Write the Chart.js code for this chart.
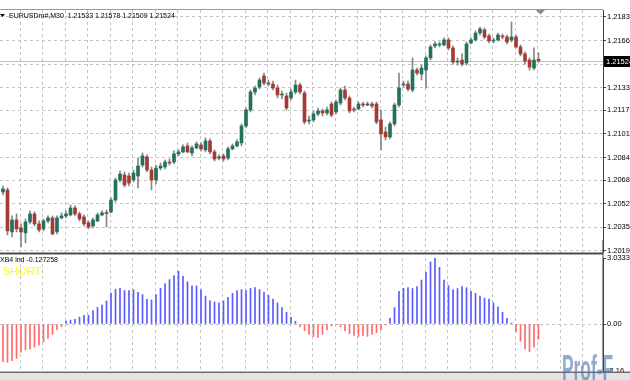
<!DOCTYPE html>
<html>
<head>
<meta charset="utf-8">
<script src="https://cdn.jsdelivr.net/npm/chart.js@4.4.1/dist/chart.umd.min.js"></script>
<style>
    html, body { margin: 0; padding: 0; background: #fff; }
    #wrap { position: relative; width: 630px; height: 380px; overflow: hidden; background: #fff; }
    #mainCanvas { position: absolute; left: 0; top: 0; }
    #indCanvas  { position: absolute; left: 0; top: 240px; }
</style>
</head>
<body>
<div id="wrap">
    <canvas id="mainCanvas" width="630" height="253"></canvas>
    <canvas id="indCanvas" width="630" height="140"></canvas>
</div>
<script>
// EURUSDm#, M30 candles (oldest -> newest)
const opens = [
    1.20603,1.20617,1.20323,1.20407,1.20351,1.20316,1.20393,1.20449,1.20379,1.20344,
    1.20400,1.20421,1.20323,1.20421,1.20435,1.20442,1.20491,1.20449,1.20428,1.20386,
    1.20365,1.20400,1.20442,1.20456,1.20463,1.20547,1.20687,1.20722,1.20715,1.20687,
    1.20715,1.20792,1.20849,1.20757,1.20687,1.20771,1.20778,1.20813,1.20813,1.20870,
    1.20884,1.20926,1.20877,1.20912,1.20933,1.20898,1.20961,1.20884,1.20841,1.20856,
    1.20841,1.20905,1.20926,1.20947,1.21066,1.21178,1.21304,1.21339,1.21416,1.21367,
    1.21360,1.21332,1.21283,1.21276,1.21262,1.21304,1.21353,1.21297,1.21101,1.21108,
    1.21150,1.21171,1.21157,1.21220,1.21164,1.21227,1.21318,1.21262,1.21185,1.21185,
    1.21220,1.21213,1.21220,1.21220,1.21108,1.21024,1.20989,1.21080,1.21213,1.21353,
    1.21360,1.21318,1.21458,1.21430,1.21458,1.21543,1.21627,1.21634,1.21634,1.21669,
    1.21613,1.21514,1.21528,1.21507,1.21648,1.21669,1.21718,1.21739,1.21697,1.21662,
    1.21669,1.21697,1.21690,1.21669,1.21690,1.21620,1.21571,1.21528,1.21472,1.21533
];
const highs = [
    1.20645,1.20631,1.20435,1.20449,1.20379,1.20414,1.20470,1.20463,1.20400,1.20414,
    1.20435,1.20435,1.20435,1.20456,1.20470,1.20512,1.20505,1.20463,1.20442,1.20400,
    1.20421,1.20456,1.20470,1.20477,1.20561,1.20701,1.20750,1.20743,1.20736,1.20757,
    1.20841,1.20877,1.20863,1.20778,1.20792,1.20806,1.20827,1.20834,1.20891,1.20898,
    1.20933,1.20947,1.20926,1.20954,1.20947,1.20982,1.20975,1.20898,1.20863,1.20870,
    1.20919,1.20940,1.20968,1.21080,1.21192,1.21318,1.21346,1.21402,1.21437,1.21388,
    1.21381,1.21353,1.21311,1.21297,1.21325,1.21388,1.21367,1.21311,1.21136,1.21171,
    1.21192,1.21185,1.21199,1.21234,1.21248,1.21332,1.21346,1.21276,1.21199,1.21234,
    1.21234,1.21234,1.21234,1.21234,1.21178,1.21059,1.21094,1.21227,1.21437,1.21381,
    1.21381,1.21543,1.21472,1.21493,1.21557,1.21634,1.21655,1.21655,1.21683,1.21683,
    1.21627,1.21543,1.21571,1.21655,1.21683,1.21732,1.21760,1.21753,1.21711,1.21683,
    1.21718,1.21711,1.21704,1.21795,1.21704,1.21634,1.21585,1.21543,1.21613,1.21578
];
const lows = [
    1.20582,1.20302,1.20288,1.20323,1.20217,1.20246,1.20379,1.20365,1.20323,1.20330,
    1.20386,1.20302,1.20309,1.20414,1.20421,1.20435,1.20435,1.20400,1.20365,1.20344,
    1.20351,1.20393,1.20435,1.20358,1.20456,1.20533,1.20673,1.20638,1.20645,1.20673,
    1.20631,1.20778,1.20743,1.20617,1.20659,1.20757,1.20764,1.20792,1.20799,1.20856,
    1.20877,1.20877,1.20856,1.20905,1.20891,1.20884,1.20870,1.20820,1.20827,1.20820,
    1.20827,1.20898,1.20919,1.20926,1.21052,1.21164,1.21283,1.21325,1.21353,1.21346,
    1.21318,1.21262,1.21255,1.21178,1.21248,1.21290,1.21290,1.21080,1.21080,1.21094,
    1.21136,1.21136,1.21143,1.21129,1.21150,1.21213,1.21248,1.21157,1.21164,1.21178,
    1.21199,1.21206,1.21192,1.21080,1.20898,1.20968,1.20975,1.21066,1.21199,1.21339,
    1.21311,1.21304,1.21423,1.21388,1.21332,1.21528,1.21613,1.21620,1.21627,1.21599,
    1.21500,1.21493,1.21486,1.21493,1.21641,1.21662,1.21704,1.21676,1.21648,1.21648,
    1.21662,1.21676,1.21641,1.21655,1.21613,1.21557,1.21500,1.21458,1.21458,1.21509
];
const closes = [
    1.20624,1.20330,1.20407,1.20344,1.20323,1.20393,1.20449,1.20379,1.20337,1.20400,
    1.20421,1.20309,1.20421,1.20435,1.20449,1.20491,1.20449,1.20414,1.20379,1.20358,
    1.20407,1.20442,1.20456,1.20452,1.20547,1.20687,1.20729,1.20652,1.20666,1.20736,
    1.20785,1.20856,1.20757,1.20687,1.20771,1.20785,1.20813,1.20806,1.20870,1.20884,
    1.20919,1.20884,1.20912,1.20940,1.20905,1.20961,1.20884,1.20834,1.20849,1.20834,
    1.20905,1.20926,1.20954,1.21066,1.21178,1.21304,1.21332,1.21388,1.21367,1.21360,
    1.21332,1.21283,1.21290,1.21192,1.21304,1.21353,1.21304,1.21094,1.21108,1.21150,
    1.21171,1.21157,1.21178,1.21143,1.21234,1.21318,1.21262,1.21171,1.21178,1.21220,
    1.21213,1.21220,1.21206,1.21094,1.21010,1.20989,1.21080,1.21213,1.21332,1.21360,
    1.21325,1.21458,1.21437,1.21472,1.21543,1.21620,1.21641,1.21641,1.21669,1.21613,
    1.21514,1.21521,1.21500,1.21641,1.21669,1.21718,1.21746,1.21690,1.21662,1.21669,
    1.21704,1.21690,1.21655,1.21690,1.21620,1.21571,1.21521,1.21479,1.21528,1.21524
];

// XB4 ind histogram, one value per candle
const indValues = [
    -1.73,-1.76,-1.69,-1.58,-1.29,-1.19,-1.14,-1.07,-0.97,-0.82,
    -0.66,-0.48,-0.26,-0.12, 0.13, 0.18, 0.22, 0.32, 0.40, 0.40,
     0.62, 0.76, 0.87, 1.06, 1.42, 1.60, 1.64, 1.54, 1.54, 1.57,
     1.45, 1.35, 1.13, 1.10, 1.35, 1.64, 1.86, 2.04, 2.23, 2.42,
     2.19, 1.94, 1.75, 1.75, 1.57, 1.28, 1.06, 1.01, 0.97, 1.06,
     1.23, 1.41, 1.54, 1.58, 1.54, 1.63, 1.67, 1.58, 1.45, 1.32,
     1.14, 0.97, 0.75, 0.53, 0.31, 0.13,-0.13,-0.31,-0.48,-0.57,
    -0.62,-0.48,-0.26,-0.09,-0.02,-0.13,-0.31,-0.44,-0.53,-0.57,
    -0.53,-0.57,-0.48,-0.40,-0.26,-0.04, 0.26, 0.75, 1.50, 1.63,
     1.67, 1.63, 1.72, 2.02, 2.38, 2.85, 3.033364, 2.60, 2.02, 1.76,
     1.58, 1.63, 1.72, 1.67, 1.50, 1.41, 1.28, 1.19, 1.14, 0.97,
     0.79, 0.53, 0.26, 0.04,-0.35,-0.79,-1.14,-1.27,-1.06,-0.70
];

const priceTicks    = [1.21830, 1.21665, 1.21500, 1.21335, 1.21175, 1.21010, 1.20845, 1.20685, 1.20520, 1.20355, 1.20190];
const indTicks      = [3.033364, 0, -2.16];
const indTickLabels = ['3.033364', '0.00', '-2.16'];

const symbolTitle = 'EURUSDm#,M30  1.21533 1.21578 1.21509 1.21524';
const lastPrice   = 1.21524;
const indTitle    = 'XB4 ind -0.127258';
const indSignal   = 'SHORT';

const GRID  = '#c4c4c4';
const AXIS  = '#404040';
const BULL  = '#23705e';
const BEAR  = '#a33b34';
const WICK  = '#858585';
const FONT  = { family: 'Liberation Sans', size: 7.5 };

const X_MIN = -0.667, X_MAX = 133.333;

function gridTicks(scale) {
    const t = [];
    for (let k = 0; k < 26; k++) t.push({ value: 3.78 + 5 * k });
    scale.ticks = t;
}

function xAxis() {
    return {
        type: 'linear', min: X_MIN, max: X_MAX, offset: false,
        afterBuildTicks: gridTicks,
        afterFit: s => { s.height = 0; s.paddingLeft = 0; s.paddingRight = 0; },
        ticks: { display: false },
        grid: { color: GRID, drawTicks: false, offset: false },
        border: { display: false, dash: [3, 3] }
    };
}

const wickData = lows.map((l, i) => ({ x: i, y: [l, highs[i]] }));
const bodyData = opens.map((o, i) => ({ x: i, y: [o, closes[i]] }));

const mainDecor = {
    id: 'mainDecor',
    beforeDatasetsDraw(chart) {
        const { ctx, chartArea, scales } = chart;
        const y = Math.round(scales.y.getPixelForValue(lastPrice)) + 0.5;
        ctx.save();
        ctx.strokeStyle = '#c0c0c0';
        ctx.lineWidth = 1;
        ctx.beginPath();
        ctx.moveTo(chartArea.left, y);
        ctx.lineTo(chartArea.right, y);
        ctx.stroke();
        ctx.restore();
    },
    afterDraw(chart) {
        const { ctx, chartArea, scales } = chart;
        ctx.save();
        // top frame
        ctx.fillStyle = '#9a9a9a';
        ctx.fillRect(0, 9, chartArea.right, 1);
        // shift marker
        ctx.fillStyle = '#8a8a8a';
        ctx.beginPath();
        ctx.moveTo(536, 10); ctx.lineTo(545, 10); ctx.lineTo(540.5, 14.5);
        ctx.closePath(); ctx.fill();
        // symbol marker + title
        ctx.fillStyle = '#000';
        ctx.beginPath();
        ctx.moveTo(0, 14); ctx.lineTo(5, 14); ctx.lineTo(2.5, 17);
        ctx.closePath(); ctx.fill();
        ctx.font = '7px "Liberation Sans"';
        ctx.textBaseline = 'middle';
        ctx.fillText(symbolTitle, 9, 16.5);
        // price box
        const y = Math.round(scales.y.getPixelForValue(lastPrice));
        ctx.fillStyle = '#000';
        ctx.fillRect(chartArea.right + 1, y - 5, 630 - chartArea.right, 11);
        ctx.fillStyle = '#fff';
        ctx.font = '7.5px "Liberation Sans"';
        ctx.fillText(lastPrice.toFixed(5), chartArea.right + 3, y + 0.5);
        ctx.restore();
    }
};

new Chart(document.getElementById('mainCanvas'), {
    type: 'bar',
    data: {
        datasets: [
            {
                data: wickData,
                backgroundColor: WICK,
                barThickness: 1,
                grouped: false,
                order: 2
            },
            {
                data: bodyData,
                backgroundColor: c => closes[c.dataIndex] >= opens[c.dataIndex] ? BULL : BEAR,
                barThickness: 3,
                minBarLength: 1,
                grouped: false,
                order: 1
            }
        ]
    },
    options: {
        responsive: false,
        animation: false,
        events: [],
        layout: { padding: { top: 10, bottom: 0, left: 0, right: 0 } },
        plugins: { legend: { display: false }, tooltip: { enabled: false } },
        scales: {
            x: xAxis(),
            y: {
                position: 'right',
                min: 1.20175, max: 1.21879,
                afterBuildTicks: s => { s.ticks = priceTicks.map(v => ({ value: v })); },
                afterFit: s => { s.width = 27; s.paddingTop = 0; s.paddingBottom = 0; },
                ticks: {
                    callback: v => v.toFixed(5),
                    font: FONT, color: '#000', padding: 1, autoSkip: false
                },
                grid: { color: GRID, tickLength: 3, tickColor: AXIS, offset: false },
                border: { display: true, color: AXIS, dash: [3, 3] }
            }
        }
    },
    plugins: [mainDecor]
});

const indDecor = {
    id: 'indDecor',
    afterDraw(chart) {
        const { ctx, chartArea } = chart;
        ctx.save();
        // panel separator
        ctx.fillStyle = '#4a4a4a';
        ctx.fillRect(0, 12.5, chartArea.right, 1.5);
        ctx.fillStyle = '#a8a8a8';
        ctx.fillRect(0, 14, chartArea.right, 1);
        // right axis line through the separator
        ctx.fillStyle = AXIS;
        ctx.fillRect(chartArea.right - 0.5, 0, 1, chartArea.bottom + 1);
        // bottom frame
        ctx.fillStyle = '#6e6e6e';
        ctx.fillRect(0, chartArea.bottom + 0.5, 630, 1.5);
        ctx.fillStyle = '#e4e4e4';
        ctx.fillRect(0, chartArea.bottom + 2, 630, 10);
        // indicator titles
        ctx.textBaseline = 'middle';
        ctx.fillStyle = '#000';
        ctx.font = '7px "Liberation Sans"';
        ctx.fillText(indTitle, 0, 20);
        ctx.fillStyle = '#ffff00';
        ctx.font = '11px "Liberation Sans"';
        ctx.fillText(indSignal, 3, 31.5);
        // watermark (narrow, tall lettering)
        ctx.translate(562, 141);
        ctx.scale(0.62, 1.3);
        ctx.fillStyle = 'rgba(70, 115, 175, 0.6)';
        ctx.font = 'bold 28px "Liberation Sans"';
        ctx.textBaseline = 'alphabetic';
        ctx.fillText('Prof-F', 0, 0);
        ctx.restore();
    }
};

new Chart(document.getElementById('indCanvas'), {
    type: 'bar',
    data: {
        datasets: [{
            data: indValues.map((v, i) => ({ x: i, y: v })),
            backgroundColor: c => indValues[c.dataIndex] >= 0 ? '#5a5aff' : '#ff6a6a',
            barThickness: 1
        }]
    },
    options: {
        responsive: false,
        animation: false,
        events: [],
        layout: { padding: { top: 18, bottom: 9, left: 0, right: 0 } },
        plugins: { legend: { display: false }, tooltip: { enabled: false } },
        scales: {
            x: xAxis(),
            y: {
                position: 'right',
                min: -2.16, max: 3.033364,
                afterBuildTicks: s => { s.ticks = indTicks.map(v => ({ value: v })); },
                afterFit: s => { s.width = 27; s.paddingTop = 0; s.paddingBottom = 0; },
                ticks: {
                    callback: (v, i) => indTickLabels[i],
                    font: FONT, color: '#000', padding: 1, autoSkip: false
                },
                grid: {
                    color: c => (c.tick && c.tick.value === 0) ? GRID : 'rgba(0,0,0,0)',
                    tickLength: 3, tickColor: AXIS, offset: false
                },
                border: { display: true, color: AXIS, dash: [3, 3] }
            }
        }
    },
    plugins: [indDecor]
});
</script>
</body>
</html>
